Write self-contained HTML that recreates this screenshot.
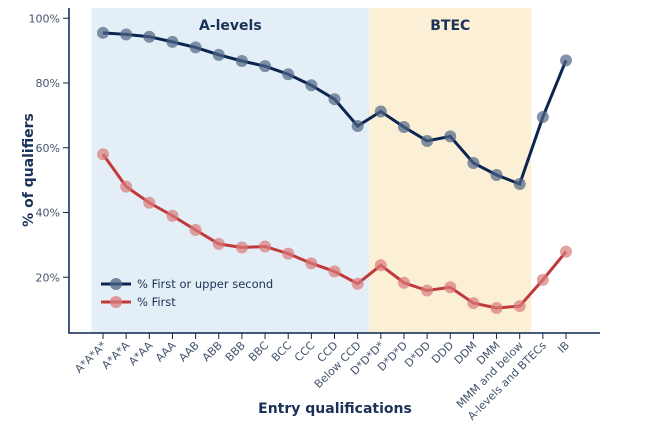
<!DOCTYPE html>
<html><head><meta charset="utf-8"><style>
body{margin:0;background:#fff;font-family:"Liberation Sans","DejaVu Sans",sans-serif}
svg text{font-family:"DejaVu Sans","Liberation Sans",sans-serif}
</style></head><body>
<svg id="chart" width="650" height="433" xmlns="http://www.w3.org/2000/svg">
<g id="bg"></g><g id="axes"></g><g id="series"></g><g id="legend"></g>
</svg>
<script>
const categories=["A*A*A*","A*A*A","A*AA","AAA","AAB","ABB","BBB","BBC","BCC","CCC","CCD","Below CCD","D*D*D*","D*D*D","D*DD","DDD","DDM","DMM","MMM and below","A-levels and BTECs","IB"];
const firstOrUpper=[95.5,95,94.3,92.7,91,88.7,86.8,85.2,82.7,79.3,75,66.7,71.2,66.4,62.1,63.5,55.3,51.6,48.8,69.5,87];
const firstOnly=[58,48,43,39,34.6,30.3,29.2,29.5,27.3,24.3,21.8,18,23.7,18.3,15.9,16.9,12,10.5,11.1,19.2,27.9];
const yTicks=[20,40,60,80,100];
const NS="http://www.w3.org/2000/svg";
const x=i=>103+i*23.15, y=v=>342-v*3.2375;
function mk(t,a,p){const e=document.createElementNS(NS,t);for(const k in a)e.setAttribute(k,a[k]);document.getElementById(p).appendChild(e);return e;}
const half=11.575;
let r=mk('rect',{x:x(0)-half,y:8,width:x(11)+half-(x(0)-half),height:325,fill:'#e3eef6'},'bg');

r=mk('rect',{x:x(11)+half,y:8,width:x(18)-x(11),height:325,fill:'#fbefd6'},'bg');

let t=mk('text',{x:(x(0)+x(11))/2,y:30,'text-anchor':'middle','font-size':14,'font-weight':'bold',fill:'#1b3257'},'bg');t.textContent='A-levels';

t=mk('text',{x:(x(12)+x(18))/2,y:30,'text-anchor':'middle','font-size':14,'font-weight':'bold',fill:'#1b3257'},'bg');t.textContent='BTEC';

let l=mk('path',{d:'M69,8 V333 H600',fill:'none',stroke:'#0b2550','stroke-width':1.5},'axes');

yTicks.forEach(v=>{let k=mk('line',{x1:63,x2:69,y1:y(v),y2:y(v),stroke:'#0b2550'},'axes');

let tt=mk('text',{x:60,y:y(v)+4,'text-anchor':'end','font-size':11,fill:'#44546e'},'axes');tt.textContent=v+'%';
});
categories.forEach((c,i)=>{let k=mk('line',{x1:x(i),x2:x(i),y1:333,y2:339,stroke:'#0b2550'},'axes');

let tt=mk('text',{x:x(i)+4,y:346,'text-anchor':'end','font-size':11,fill:'#44546e',transform:`rotate(-45 ${x(i)+4} 346)`},'axes');tt.textContent=c;
});
t=mk('text',{x:335,y:413,'text-anchor':'middle','font-size':14,'font-weight':'bold',fill:'#1b3257'},'axes');t.textContent='Entry qualifications';

t=mk('text',{x:33,y:170,'text-anchor':'middle','font-size':14,'font-weight':'bold',fill:'#1b3257',transform:'rotate(-90 33 170)'},'axes');t.textContent='% of qualifiers';

function series(vals,line,dot,name){
 let p=mk('polyline',{points:vals.map((v,i)=>x(i)+','+y(v)).join(' '),fill:'none',stroke:line,'stroke-width':3},'series');
 
 vals.forEach((v,i)=>{let c=mk('circle',{cx:x(i),cy:y(v),r:6,fill:dot,'fill-opacity':0.7},'series');
 });
}
series(firstOrUpper,'#0b2550','#4f6585','first-or-upper');
series(firstOnly,'#c0393b','#d97b7b','first');
[['% First or upper second','#0b2550','#4f6585',284],['% First','#c0393b','#d97b7b',302]].forEach((e,i)=>{
 let g=mk('g',{},'legend');
 let a=document.createElementNS(NS,'line');a.setAttribute('x1',101);a.setAttribute('x2',131);a.setAttribute('y1',e[3]);a.setAttribute('y2',e[3]);a.setAttribute('stroke',e[1]);a.setAttribute('stroke-width',3);g.appendChild(a);
 let c=document.createElementNS(NS,'circle');c.setAttribute('cx',116);c.setAttribute('cy',e[3]);c.setAttribute('r',6);c.setAttribute('fill',e[2]);c.setAttribute('fill-opacity',0.75);g.appendChild(c);
 let tx=document.createElementNS(NS,'text');tx.setAttribute('x',137);tx.setAttribute('y',e[3]+4);tx.setAttribute('font-size',11.5);tx.setAttribute('fill','#1b3257');tx.textContent=e[0];g.appendChild(tx);
});
</script>
</body></html>
